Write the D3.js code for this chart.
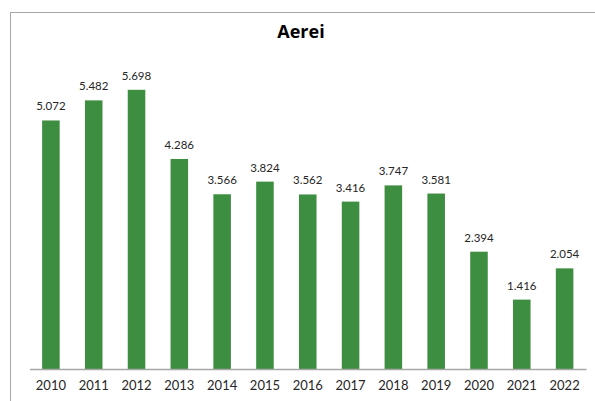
<!DOCTYPE html>
<html>
<head>
<meta charset="utf-8">
<script src="https://cdn.jsdelivr.net/npm/d3@7"></script>
<style>
  body { margin: 0; background: #fff; }
  svg { display: block; font-family: Lato, "Open Sans", sans-serif; }
</style>
</head>
<body>
<div id="chart"></div>
<script>
var years = ["2010", "2011", "2012", "2013", "2014", "2015", "2016", "2017", "2018", "2019", "2020", "2021", "2022"];
var values = [5072, 5482, 5698, 4286, 3566, 3824, 3562, 3416, 3747, 3581, 2394, 1416, 2054];
var title = "Aerei";

var width = 595;
var height = 401;
var barColor = "#3e8e41";

var svg = d3.select("#chart")
    .append("svg")
    .attr("width", width)
    .attr("height", height);

// outer frame (runs past the right and bottom edge)
svg.append("rect")
    .attr("x", 10.5)
    .attr("y", 12.5)
    .attr("width", 600)
    .attr("height", 400)
    .attr("fill", "none")
    .attr("stroke", "#a6a6a6")
    .attr("stroke-width", 1);

svg.append("text")
    .attr("x", 301)
    .attr("y", 38)
    .attr("text-anchor", "middle")
    .style("font-family", "'Open Sans', sans-serif")
    .style("font-weight", "bold")
    .style("font-size", "18px")
    .text(title);

var x = d3.scaleBand()
    .domain(years)
    .range([29.5, 586])
    .paddingInner(0.59)
    .paddingOuter(0.295);

var y = d3.scaleLinear()
    .domain([0, 6000])
    .range([369, 75]);

svg.selectAll("rect.bar")
    .data(values)
    .enter()
    .append("rect")
    .attr("class", "bar")
    .attr("x", (d, i) => x(years[i]))
    .attr("y", d => y(d))
    .attr("width", x.bandwidth())
    .attr("height", d => y(0) - y(d))
    .attr("fill", barColor);

var fmt = d3.formatLocale({ decimal: ",", thousands: ".", grouping: [3], currency: ["", "€"] }).format(",d");

svg.selectAll("text.val")
    .data(values)
    .enter()
    .append("text")
    .attr("class", "val")
    .attr("x", (d, i) => x(years[i]) + x.bandwidth() / 2)
    .attr("y", d => y(d) - 10)
    .attr("text-anchor", "middle")
    .style("font-size", "11.5px")
    .attr("fill", "#262626")
    .text(d => fmt(d));

var axis = svg.append("g")
    .attr("transform", "translate(0,369)")
    .call(d3.axisBottom(x).tickSize(0).tickPadding(12));

axis.select(".domain")
    .attr("stroke", "#a6a6a6")
    .attr("stroke-width", 1.5);

axis.selectAll("text")
    .style("font-family", "Lato, sans-serif")
    .style("font-size", "13px")
    .attr("fill", "#262626");
</script>
</body>
</html>
